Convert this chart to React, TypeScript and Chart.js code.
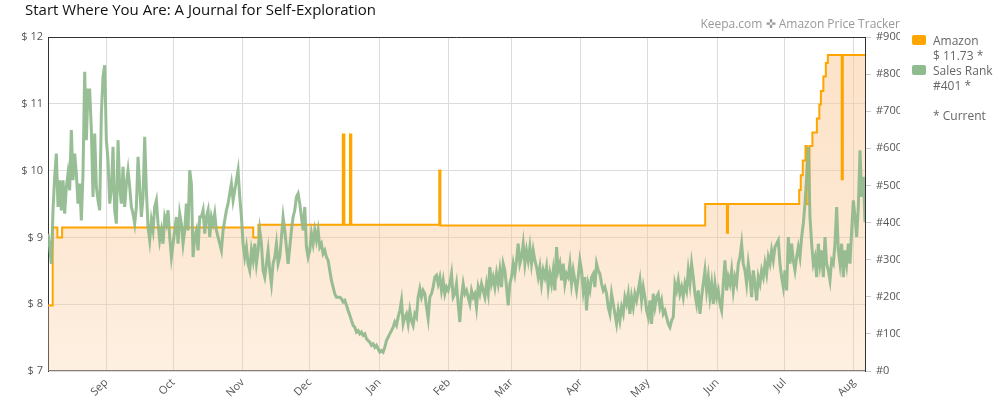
import React, { useEffect, useRef } from "react";
import { Chart, registerables } from "chart.js";

Chart.register(...registerables);

const TITLE = "Start Where You Are: A Journal for Self-Exploration";
const SUBTITLE = "Keepa.com \u271C Amazon Price Tracker";

// x axis: days since Aug 6 (one year shown)
const TOTAL_DAYS = 365;
const monthLabels = ["Sep", "Oct", "Nov", "Dec", "Jan", "Feb", "Mar", "Apr", "May", "Jun", "Jul", "Aug"];
const monthStartDays = [26, 56, 87, 117, 148, 179, 207, 238, 268, 299, 329, 360];

// left axis ($) and right axis (#rank)
const priceTicks = [7, 8, 9, 10, 11, 12];
const rankTicks = [0, 100, 200, 300, 400, 500, 600, 700, 800, 900];

// Amazon price (step changes)
const priceDays = [0, 2.1, 4.2, 6.3, 91.7, 94.0, 131.7, 132.4, 134.9, 135.5, 174.8, 175.3, 293.6, 303.3, 303.8,
  335.6, 336.3, 337.2, 338.4, 339.0, 340.2, 341.5, 343.5, 344.6, 345.3, 346.4, 347.5, 348.4, 354.6, 355.1, 365];
const priceValues = [7.98, 9.15, 9.0, 9.15, 9.0, 9.19, 10.54, 9.19, 10.54, 9.19, 10.0, 9.18, 9.5, 9.07, 9.5,
  9.71, 9.93, 10.15, 10.37, 9.5, 10.37, 10.57, 10.78, 10.99, 11.19, 11.41, 11.61, 11.73, 9.87, 11.73, 11.73];

// Sales rank, evenly spaced samples across the year
const rankValues = [
  370, 334, 289, 433, 523, 586, 442, 514, 433, 514,
  424, 496, 532, 487, 649, 514, 586, 532, 451, 505,
  406, 532, 806, 622, 757, 757, 649, 469, 640, 496,
  460, 433, 694, 793, 824, 622, 568, 451, 487, 604,
  433, 397, 622, 496, 451, 550, 442, 505, 541, 496,
  442, 424, 397, 442, 577, 496, 415, 469, 631, 487,
  388, 352, 406, 379, 442, 460, 397, 352, 379, 343,
  415, 397, 433, 361, 307, 343, 379, 415, 343, 424,
  397, 343, 379, 451, 379, 541, 505, 307, 361, 379,
  325, 415, 415, 433, 370, 415, 433, 361, 415, 397,
  424, 379, 361, 343, 325, 379, 406, 433, 451, 478,
  505, 460, 487, 514, 541, 469, 415, 343, 307, 334,
  289, 271, 325, 298, 343, 289, 325, 379, 343, 271,
  253, 289, 325, 271, 235, 289, 307, 343, 289, 307,
  361, 415, 379, 334, 289, 334, 379, 415, 433, 469,
  478, 451, 415, 379, 442, 334, 307, 325, 370, 343,
  379, 352, 379, 334, 343, 316, 325, 307, 298, 271,
  244, 226, 208, 199, 199,
  199, 195, 186, 190, 177, 163, 150, 136, 123, 118,
  105, 109, 100, 105, 96, 100, 87, 82, 78, 69,
  73, 64, 69, 60, 51, 55, 51, 64, 82, 91,
  100, 109, 118, 132, 123, 145, 163, 190, 127, 145,
  154, 127, 163, 136, 123, 154, 145, 199, 222, 199,
  217, 208, 172, 141, 199, 208, 226, 253, 258, 235,
  253, 217, 244, 208, 226, 217, 235, 262, 199, 208,
  235, 181, 132, 199, 235, 208, 217, 199, 181, 217,
  199, 208, 172, 226, 208, 235, 217, 199, 235, 208,
  280, 235, 253, 226, 262, 235, 271, 226, 289, 271,
  226, 177, 235, 253, 289, 262, 298, 343, 289, 307,
  343, 289, 325, 298, 334, 289, 325, 298, 280, 253,
  280, 235, 271, 253, 280, 226, 262, 235, 271, 217,
  334, 271, 289, 244, 289, 235, 262, 253, 289, 235,
  271, 244, 217, 253,
  298, 271, 217, 253, 163, 235, 217, 253, 262, 226,
  289, 271, 262, 235, 217, 226, 208, 172, 154, 208,
  181, 154, 127, 163, 136, 172, 154, 199, 181, 208,
  154, 199, 172, 208, 190, 217, 244, 190, 226, 199,
  163, 145, 190, 127, 208, 172, 199, 208, 172, 190,
  154, 163, 145, 127, 118, 136, 145, 235, 217, 244,
  208, 226, 199, 235, 217, 271, 235, 289, 253, 208,
  181, 217, 154, 199, 235, 271, 217, 253, 199, 235,
  181, 235, 199, 217, 181, 163, 235, 298, 217, 253,
  235, 271, 217, 253, 235, 289, 307, 343, 289, 271,
  235, 289, 253, 199, 271, 235, 190, 253, 235, 271,
  253, 289, 262, 307, 289, 325, 298, 334, 343, 352,
  289, 253, 226, 271, 217, 361, 289, 343, 298, 271,
  307, 334, 307, 361, 397, 451, 523, 604, 415, 343,
  289, 307, 253, 343, 289, 325, 253, 361, 289, 271,
  244, 298, 289, 343, 442, 325, 289, 343, 253, 325,
  289, 343, 289, 379, 460, 415, 361, 442, 595, 469,
  523, 401,
];

// legend
const legendLabels = ["Amazon", "Sales Rank"];
const legendValues = ["$ 11.73 *", "#401 *"];
const legendColors = ["#FFA500", "#8FBC8F"];
const legendNote = "* Current";

const FONT = "'Open Sans', 'Noto Sans', sans-serif";

export default function App() {
  const ref = useRef<HTMLCanvasElement>(null);

  useEffect(() => {
    document.body.style.margin = "0";
    const canvas = ref.current;
    if (!canvas) return;

    const priceData = priceDays.map((d, i) => ({ x: d, y: priceValues[i] }));
    const rankData = rankValues.map((v, i) => ({ x: (i * TOTAL_DAYS) / (rankValues.length - 1), y: v }));

    const chrome = {
      id: "keepaChrome",
      afterDraw(chart: any) {
        const c = chart.ctx;
        const a = chart.chartArea;
        c.save();
        // frame top / bottom
        c.strokeStyle = "#333";
        c.lineWidth = 1;
        c.beginPath();
        c.moveTo(a.left, a.top + 0.5);
        c.lineTo(a.right, a.top + 0.5);
        c.stroke();
        c.strokeStyle = "#8a7d74";
        c.beginPath();
        c.moveTo(a.left, a.bottom - 0.5);
        c.lineTo(a.right, a.bottom - 0.5);
        c.stroke();

        // title
        c.fillStyle = "#111";
        c.font = `15px ${FONT}`;
        c.textAlign = "left";
        c.textBaseline = "alphabetic";
        c.fillText(TITLE, 25, 15);

        // subtitle
        c.fillStyle = "#999";
        c.font = `12px ${FONT}`;
        c.textAlign = "right";
        c.fillText(SUBTITLE, 900, 28);

        // legend
        c.textAlign = "left";
        c.font = `12px ${FONT}`;
        legendLabels.forEach((lab, i) => {
          const top = 35 + i * 30;
          c.fillStyle = legendColors[i];
          c.beginPath();
          if ((c as any).roundRect) (c as any).roundRect(912, top, 14, 10, 2);
          else c.rect(912, top, 14, 10);
          c.fill();
          c.fillStyle = "#666";
          c.fillText(lab, 933, top + 10);
          c.fillText(legendValues[i], 933, top + 25);
        });
        c.fillText(legendNote, 933, 120);
        c.restore();
      },
    };

    const chart = new Chart(canvas, {
      type: "line",
      data: {
        datasets: [
          {
            label: "Amazon",
            data: priceData,
            yAxisID: "y",
            stepped: true,
            borderColor: "#FFA500",
            borderWidth: 2,
            pointRadius: 0,
            fill: "start",
            order: 1,
            backgroundColor: (ctx: any) => {
              const ch = ctx.chart;
              const a = ch.chartArea;
              if (!a) return "rgba(250,200,150,0.4)";
              const g = ch.ctx.createLinearGradient(0, a.top, 0, a.bottom);
              g.addColorStop(0, "rgba(250,200,150,0.52)");
              g.addColorStop(0.56, "rgba(250,200,150,0.43)");
              g.addColorStop(1, "rgba(250,200,150,0.28)");
              return g;
            },
          },
          {
            label: "Sales Rank",
            data: rankData,
            yAxisID: "y1",
            borderColor: "rgba(143,185,140,0.92)",
            borderWidth: 3,
            pointRadius: 0,
            fill: false,
            tension: 0,
            order: 0,
          },
        ],
      },
      options: {
        responsive: false,
        animation: false,
        devicePixelRatio: 1,
        events: [],
        layout: { padding: { top: 37, right: 100, left: 0, bottom: 0 } },
        plugins: {
          legend: { display: false },
          title: { display: false },
          tooltip: { enabled: false },
        },
        scales: {
          x: {
            type: "linear",
            min: 0,
            max: TOTAL_DAYS,
            afterBuildTicks: (scale: any) => {
              scale.ticks = monthStartDays.map((v) => ({ value: v }));
            },
            afterFit: (scale: any) => {
              scale.height = 29;
            },
            grid: { color: "#dcdcdc", drawTicks: false },
            border: { display: false },
            ticks: {
              autoSkip: false,
              maxRotation: 45,
              minRotation: 45,
              padding: 5,
              color: "#555",
              font: { family: FONT, size: 11 },
              callback: (_v: any, i: number) => monthLabels[i],
            },
          },
          y: {
            type: "linear",
            position: "left",
            min: 7,
            max: 12,
            afterBuildTicks: (scale: any) => {
              scale.ticks = priceTicks.map((v) => ({ value: v }));
            },
            afterFit: (scale: any) => {
              scale.width = 48;
            },
            grid: { color: "#dcdcdc", drawTicks: false },
            border: { display: true, color: "#333" },
            ticks: {
              padding: 5,
              color: "#555",
              font: { family: FONT, size: 11 },
              callback: (v: any) => "$ " + v,
            },
          },
          y1: {
            type: "linear",
            position: "right",
            min: 0,
            max: 900,
            afterBuildTicks: (scale: any) => {
              scale.ticks = rankTicks.map((v) => ({ value: v }));
            },
            afterFit: (scale: any) => {
              scale.width = 35;
            },
            grid: { drawOnChartArea: false, drawTicks: true, tickLength: 6, color: "#ccc" },
            border: { display: true, color: "#333" },
            ticks: {
              padding: 5,
              color: "#555",
              font: { family: FONT, size: 11 },
              callback: (v: any) => "#" + v,
            },
          },
        },
      },
      plugins: [chrome],
    } as any);

    return () => chart.destroy();
  }, []);

  return (
    <div style={{ width: 1000, height: 400 }}>
      <canvas ref={ref} width={1000} height={400} style={{ display: "block" }} />
    </div>
  );
}
